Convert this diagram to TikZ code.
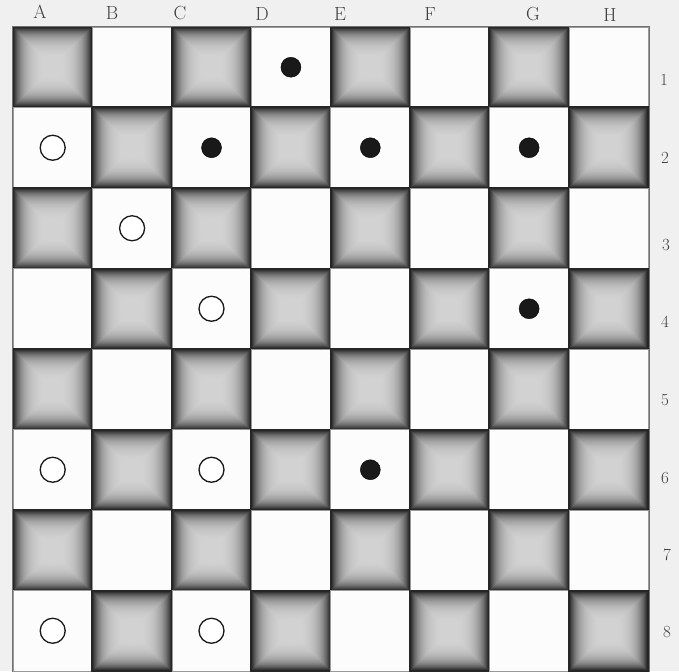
\documentclass[tikz,border=0pt]{standalone}
\begin{document}
\begin{tikzpicture}[x=1pt,y=-1pt,
  darksq/.style={minimum width=79.4pt,minimum height=80.5pt,inner sep=0pt,
    draw=black!85,line width=2pt,
    path picture={
      \foreach \k in {0,...,30}{
        \pgfmathsetmacro\cc{15+72*exp(-\k/9)}
        \fill[black!\cc] ([shift={(\k*1pt,\k*1pt)}]path picture bounding box.south west)
          rectangle ([shift={(-\k*1pt,-\k*1pt)}]path picture bounding box.north east);
      }}},
  lightsq/.style={minimum width=79.4pt,minimum height=80.5pt,inner sep=0pt,
    draw=black!40,line width=0.6pt,fill=black!1},
  bpiece/.style={circle,fill=black!90,draw=black,minimum size=20pt,inner sep=0pt},
  wpiece/.style={circle,fill=white,draw=black!90,line width=1.3pt,minimum size=25pt,inner sep=0pt},
  collabel/.style={font=\fontsize{19}{20}\selectfont,text=black!75,inner sep=0pt},
  rowlabel/.style={font=\fontsize{17}{18}\selectfont,text=black!75,inner sep=0pt}]
\useasboundingbox (0,0) rectangle (679,671);
\fill[black!6] (0,0) rectangle (679,671);
\foreach \c/\i in {A/0,B/1,C/2,D/3,E/4,F/5,G/6,H/7}{
  \foreach \r in {1,...,8}{
    \pgfmathtruncatemacro\s{mod(\i+\r-1,2)}
    \pgfmathsetmacro\xx{13+79.4*(\i+0.5)}
    \pgfmathsetmacro\yy{27+80.5*(\r-0.5)}
    \ifnum\s=0
      \node[darksq] (sq\c\r) at (\xx,\yy) {};
    \else
      \node[lightsq] (sq\c\r) at (\xx,\yy) {};
    \fi
  }
}
\draw[black!55,line width=0.6pt] (sqA1.north west) rectangle (sqH8.south east);
% black pieces
\node[bpiece] (pD1) at (sqD1) {};
\node[bpiece] (pC2) at (sqC2) {};
\node[bpiece] (pE2) at (sqE2) {};
\node[bpiece] (pG2) at (sqG2) {};
\node[bpiece] (pG4) at (sqG4) {};
\node[bpiece] (pE6) at (sqE6) {};
% white pieces
\node[wpiece] (pA2) at (sqA2) {};
\node[wpiece] (pB3) at (sqB3) {};
\node[wpiece] (pC4) at (sqC4) {};
\node[wpiece] (pA6) at (sqA6) {};
\node[wpiece] (pC6) at (sqC6) {};
\node[wpiece] (pA8) at (sqA8) {};
\node[wpiece] (pC8) at (sqC8) {};
% column labels
\node[collabel] (lA) at (40,12) {A};
\node[collabel] (lB) at (112,13) {B};
\node[collabel] (lC) at (180,13) {C};
\node[collabel] (lD) at (262,14) {D};
\node[collabel] (lE) at (340,14) {E};
\node[collabel] (lF) at (430,14) {F};
\node[collabel] (lG) at (533,14) {G};
\node[collabel] (lH) at (610,15) {H};
% row labels
\node[rowlabel] (n1) at (664,80) {1};
\node[rowlabel] (n2) at (665,158) {2};
\node[rowlabel] (n3) at (666,245) {3};
\node[rowlabel] (n4) at (665,322) {4};
\node[rowlabel] (n5) at (665,400) {5};
\node[rowlabel] (n6) at (665,478) {6};
\node[rowlabel] (n7) at (667,555) {7};
\node[rowlabel] (n8) at (667,632) {8};
\end{tikzpicture}
\end{document}
